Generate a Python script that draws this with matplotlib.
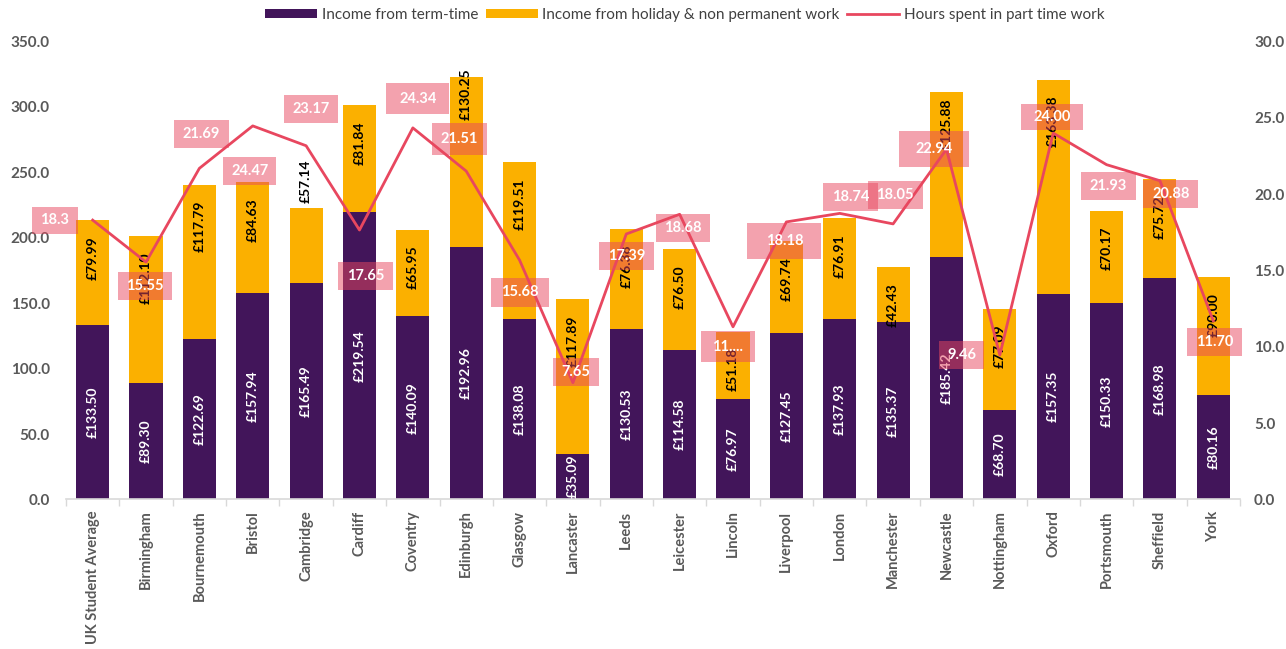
import matplotlib
matplotlib.use("Agg")
import matplotlib.pyplot as plt
from matplotlib.patches import Rectangle
from matplotlib.transforms import Affine2D, ScaledTranslation
from matplotlib.lines import Line2D
from matplotlib.patches import Patch

plt.rcParams['font.family'] = ['Lato', 'DejaVu Sans']

cities = ["UK Student Average", "Birmingham", "Bournemouth", "Bristol", "Cambridge",
          "Cardiff", "Coventry", "Edinburgh", "Glasgow", "Lancaster", "Leeds",
          "Leicester", "Lincoln", "Liverpool", "London", "Manchester", "Newcastle",
          "Nottingham", "Oxford", "Portsmouth", "Sheffield", "York"]
term_income = [133.50, 89.30, 122.69, 157.94, 165.49, 219.54, 140.09, 192.96, 138.08,
               35.09, 130.53, 114.58, 76.97, 127.45, 137.93, 135.37, 185.42, 68.70,
               157.35, 150.33, 168.98, 80.16]
holiday_income = [79.99, 112.10, 117.79, 84.63, 57.14, 81.84, 65.95, 130.25, 119.51,
                  117.89, 76.38, 76.50, 51.18, 69.74, 76.91, 42.43, 125.88, 77.09,
                  163.38, 70.17, 75.72, 90.00]
hours = [18.30, 15.55, 21.69, 24.47, 23.17, 17.65, 24.34, 21.51, 15.68, 7.65, 17.39,
         18.68, 11.31, 18.18, 18.74, 18.05, 22.94, 9.46, 24.00, 21.93, 20.88, 11.70]
hours_text = ["18.3", "15.55", "21.69", "24.47", "23.17", "17.65", "24.34", "21.51",
              "15.68", "7.65", "17.39", "18.68", "11....", "18.18", "18.74", "18.05",
              "22.94", "9.46", "24.00", "21.93", "20.88", "11.70"]

PURPLE = "#42155A"
ORANGE = "#FBB000"
RED = "#E8475F"
GREY = "#595959"

# label placement (pixels relative to the line point; +dy = downwards), box sizes (pixels)
hour_offsets = [(-38, 0), (-1, 24), (2, -34), (-3, 45), (5, -37), (6, 46), (5, -29),
                (-7, -32), (0, 32), (3, -11), (0, 22), (3, 14), (-5, 20), (-2, 19),
                (11, -16), (2, -29), (-12, 0), (-38, 0), (-1, -16), (2, 21), (11, 13),
                (1, 21)]
hour_boxes = [(46, 27), (54, 28), (55, 28), (53, 28), (54, 28), (55, 28), (63, 31),
              (55, 32), (58, 29), (46, 28), (55, 28), (54, 28), (54, 31), (74, 36),
              (55, 28), (55, 28), (70, 36), (45, 28), (62, 26), (55, 28), (55, 28),
              (55, 28)]
# holiday label: (va, pixel offset from top of bar, positive = up)
hol_special = {4: ('bottom', 5), 7: ('top', 8), 16: ('top', -6)}

px = 0.72  # points per pixel at 100 dpi

fig = plt.figure(figsize=(12.86, 6.49), dpi=100)
ax = fig.add_axes([0.0513, 0.2304, 0.9129, 0.7057])
ax2 = ax.twinx()

x = list(range(len(cities)))
w = 0.62
ax.bar(x, term_income, width=w, color=PURPLE, zorder=2)
ax.bar(x, holiday_income, width=w, bottom=term_income, color=ORANGE, zorder=2)

ax.set_xlim(-0.5, len(cities) - 0.5)
ax.set_ylim(0, 350)
ax.set_yticks(range(0, 351, 50))
ax.set_yticklabels([f"{v:.1f}" for v in range(0, 351, 50)])
ax.set_xticks(x)
ax.set_xticklabels(cities, rotation=90)
ax.set_xticks([i - 0.5 for i in range(len(cities) + 1)], minor=True)
ax.tick_params(axis='x', which='major', length=0, pad=8, labelsize=10.5, labelcolor=GREY)
ax.tick_params(axis='x', which='minor', length=5, color="#D9D9D9", width=1)
ax.tick_params(axis='y', length=0, pad=16 * px, labelsize=11, labelcolor=GREY)
for lbl in ax.get_xticklabels() + ax.get_yticklabels():
    lbl.set_fontweight('bold')
for s in ['top', 'left', 'right']:
    ax.spines[s].set_visible(False)
ax.spines['bottom'].set_color("#D9D9D9")
ax.spines['bottom'].set_linewidth(1.2)

for s in ['top', 'left', 'right', 'bottom']:
    ax2.spines[s].set_visible(False)
ax2.set_ylim(0, 30)
ax2.set_yticks(range(0, 31, 5))
ax2.set_yticklabels([f"{v:.1f}" for v in range(0, 31, 5)])
ax2.tick_params(axis='y', length=0, pad=14 * px, labelsize=11, labelcolor=GREY)
for lbl in ax2.get_yticklabels():
    lbl.set_fontweight('bold')

ax2.plot(x, hours, color=RED, lw=2, zorder=2)

# bar labels
for i in x:
    ax.text(i, term_income[i] / 2, f"£{term_income[i]:.2f}", rotation=90, ha='center',
            va='center', color='white', fontsize=10, fontweight='bold', zorder=3)
    top = term_income[i] + holiday_income[i]
    va, off = hol_special.get(i, ('top', -16))
    ax.annotate(f"£{holiday_income[i]:.2f}", xy=(i, top), xytext=(0, off * px),
                textcoords='offset points', rotation=90, ha='center', va=va,
                color='black', fontsize=10, fontweight='bold', zorder=3)

# hours labels
for i in x:
    dx, dy = hour_offsets[i]
    bw, bh = hour_boxes[i]
    tr = Affine2D().scale(fig.dpi / 72) + ScaledTranslation(i, hours[i], ax2.transData)
    rect = Rectangle(((dx - bw / 2) * px, (-dy - bh / 2) * px), bw * px, bh * px,
                     facecolor=RED, alpha=0.5, edgecolor='none', transform=tr,
                     zorder=3, clip_on=False)
    ax2.add_artist(rect)
    ax2.annotate(hours_text[i], xy=(i, hours[i]), xytext=(dx * px, -dy * px),
                 textcoords='offset points', ha='center', va='center', color='white',
                 fontsize=10.5, fontweight='bold', zorder=4)

handles = [Patch(facecolor=PURPLE), Patch(facecolor=ORANGE), Line2D([], [], color=RED, lw=2)]
labels = ["Income from term-time", "Income from holiday & non permanent work",
          "Hours spent in part time work"]
leg = fig.legend(handles, labels, loc='center', bbox_to_anchor=(685 / 1286, 1 - 15 / 649),
                 ncol=3, frameon=False, fontsize=11, handlelength=3.4, handleheight=0.55,
                 columnspacing=0.5, handletextpad=0.3)
for t in leg.get_texts():
    t.set_color("#404040")

fig.savefig("out.png", dpi=100)
